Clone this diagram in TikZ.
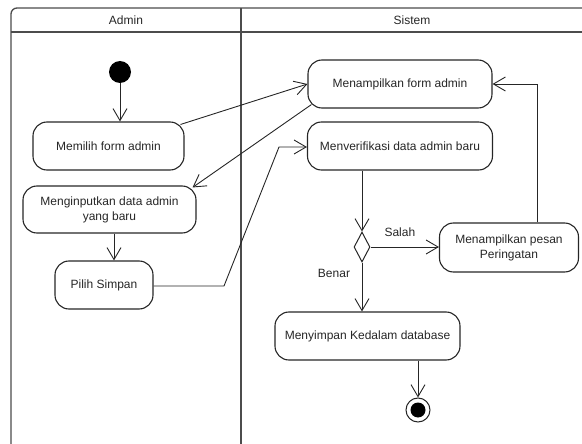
\documentclass[tikz,border=0pt]{standalone}
\usepackage{fontspec}
\setmainfont{Liberation Sans}
\usetikzlibrary{arrows.meta,shapes.geometric,calc}
\begin{document}
\begin{tikzpicture}[x=1pt,y=-1pt,
  txt/.style={font=\fontsize{12}{15}\selectfont, text=black!85},
  act/.style={txt, draw=black!85, line width=1.1pt, rounded corners=14pt,
    align=center, inner sep=0pt},
  flow/.style={draw=black!85, line width=0.9pt,
    -{Straight Barb[length=12pt,width=14pt,line width=0.9pt]}},
  lane/.style={draw=black!70, line width=1.3pt},
  decision/.style={diamond, draw=black!85, line width=1pt, inner sep=0pt,
    minimum width=16pt, minimum height=30pt, aspect=0.53}
]
\useasboundingbox (0,0) rectangle (582,444);

% swimlane frame
\draw[lane, rounded corners=6pt] (11,446) -- (11,8) -- (584,8);
\draw[lane] (11,32) -- (584,32);
\draw[lane] (241,8) -- (241,446);
\node[txt] (laneA) at (126,20) {Admin};
\node[txt] (laneS) at (412,20) {Sistem};

% Admin lane
\node[circle, fill=black, minimum size=22pt, inner sep=0pt] (start) at (120,72) {};
\node[act, minimum width=151pt, minimum height=48pt] (mem) at (108.5,146) {Memilih form admin};
\node[act, minimum width=173pt, minimum height=47pt] (inp) at (109.5,209.5) {Menginputkan data admin\\yang baru};
\node[act, minimum width=98pt, minimum height=48pt] (pil) at (104,285) {Pilih Simpan};

% Sistem lane
\node[act, minimum width=184pt, minimum height=48pt] (tam) at (400,84) {Menampilkan form admin};
\node[act, minimum width=185pt, minimum height=48pt] (ver) at (400,146) {Menverifikasi data admin baru};
\node[decision] (dec) at (362,247) {};
\node[act, minimum width=139pt, minimum height=49pt] (pes) at (509,247.5) {Menampilkan pesan\\Peringatan};
\node[act, minimum width=185pt, minimum height=48pt] (sim) at (367.5,336) {Menyimpan Kedalam database};
\node[circle, draw=black!85, line width=1pt, minimum size=24pt, inner sep=0pt,
  path picture={\fill[black] (path picture bounding box.center) circle (7.5pt);}] (end) at (418,410) {};

% control flow
\draw[flow] (start) -- (start |- mem.north);
\draw[flow] ($(mem.north east)+(-4,3)$) -- (tam.west);
\draw[flow] ($(tam.south west)+(4,-4)$) -- ($(inp.north east)+(-4,2)$);
\draw[flow] (inp.south -| 114,0) -- (pil.north -| 114,0);
\coordinate (bend1) at (224,286);
\coordinate (bend2) at (279,147);
\draw[flow] (pil.east |- bend1) -- (bend1) -- (bend2) -- (ver.west |- bend2);
\draw[flow] (ver.south -| dec) -- (dec.north);
\draw[flow] (dec.east) -- (pes.west |- dec.east);
\node[txt, anchor=west] (salah) at (381,232) {Salah};
\draw[flow] (dec.south) -- (dec |- sim.north);
\node[txt] (benar) at (334,273) {Benar};
\coordinate (up) at (537,84);
\draw[flow] (pes.north -| up) -- (up) -- (tam.east);
\draw[flow] (sim.south -| end) -- (end.north);
\end{tikzpicture}
\end{document}
